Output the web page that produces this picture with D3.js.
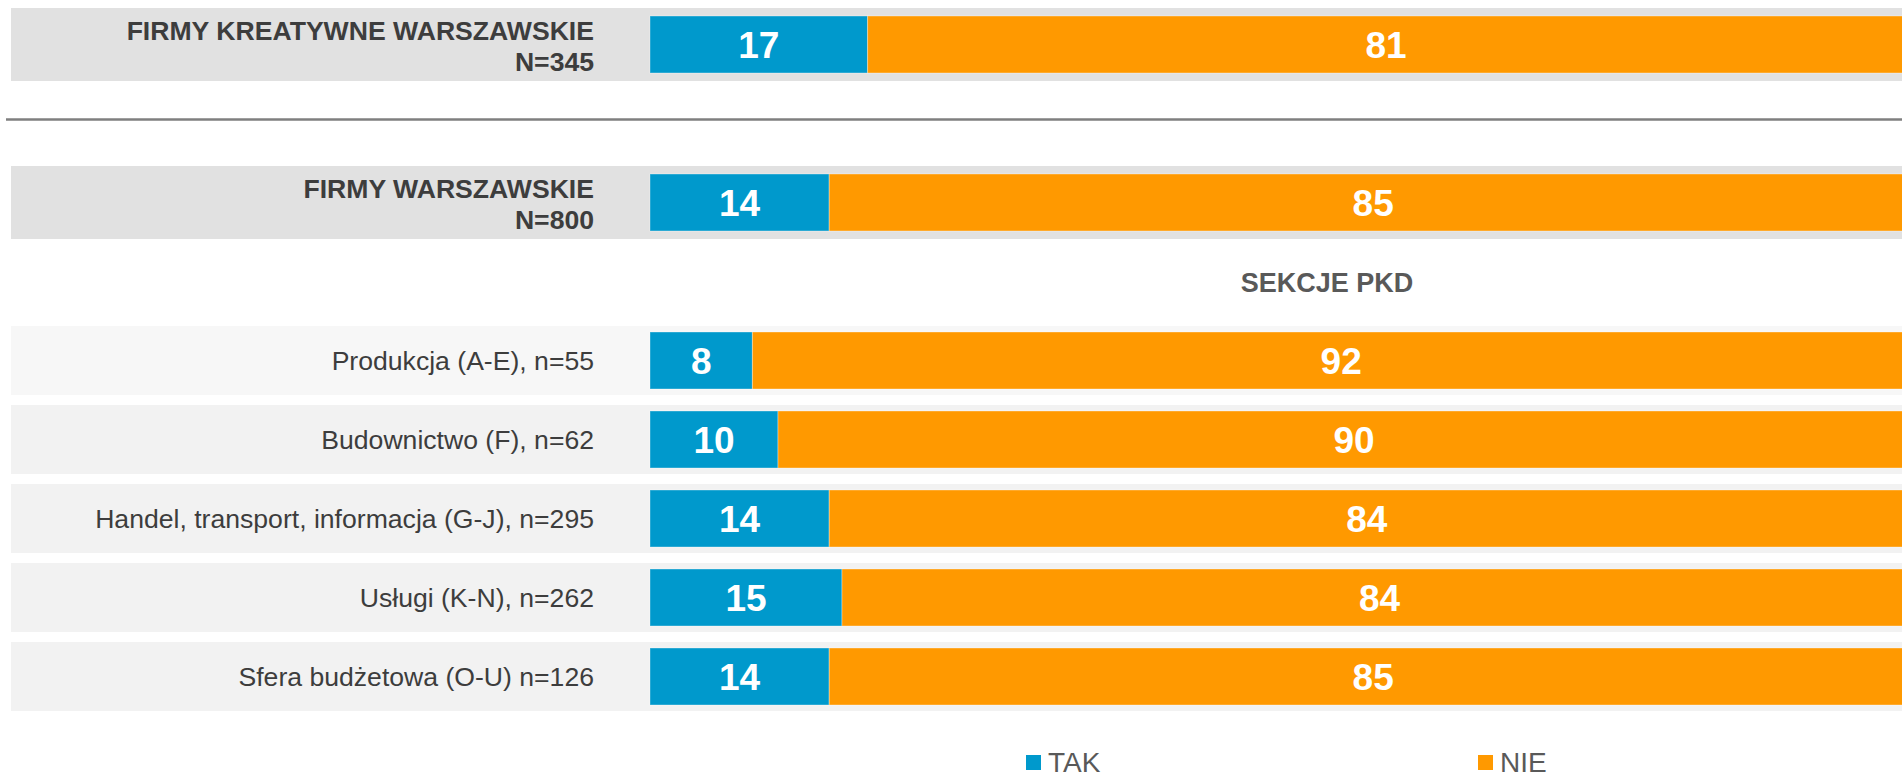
<!DOCTYPE html>
<html>
<head>
<meta charset="utf-8">
<script src="https://cdn.jsdelivr.net/npm/d3@7"></script>
<style>
  body { margin: 0; background: #fff; }
  svg { display: block; font-family: "Liberation Sans", Arial, sans-serif; }
</style>
</head>
<body>
<div id="chart"></div>
<script>
// chart data
const totals = ["FIRMY KREATYWNE WARSZAWSKIE|N=345", "FIRMY WARSZAWSKIE|N=800"];
const sectors = [
    "Produkcja (A-E), n=55",
    "Budownictwo (F), n=62",
    "Handel, transport, informacja (G-J), n=295",
    "Usługi (K-N), n=262",
    "Sfera budżetowa (O-U) n=126"
];
const series = ["TAK", "NIE"];
const takValues = [17, 14, 8, 10, 14, 15, 14];
const nieValues = [81, 85, 92, 90, 84, 84, 85];
const sectionTitle = "SEKCJE PKD";

const colors = {TAK: "#0099cc", NIE: "#ff9900"};

const width = 1902;
const height = 773;

const rows = totals.concat(sectors).map((label, i) => ({
    label: label,
    bold: i < totals.length,
    shade: i < totals.length ? "#e1e1e1" : (i === totals.length ? "#f7f7f7" : "#f2f2f2"),
    slot: "r" + i,
    TAK: takValues[i],
    NIE: nieValues[i]
}));

// vertical slots: rows plus separator and section title
const slots = ["r0", "sep", "r1", "title"].concat(sectors.map((d, i) => "r" + (i + 2)));

const svg = d3.select("#chart")
    .append("svg")
    .attr("width", width)
    .attr("height", height);

const x = d3.scaleLinear().domain([0, 100]).range([650, 1930]);
const y = d3.scaleBand()
    .domain(slots)
    .range([5, 716])
    .paddingInner(22 / 79)
    .paddingOuter(11 / 79);
const bw = y.bandwidth();

// row backgrounds
svg.append("g").selectAll("rect")
    .data(rows)
    .join("rect")
    .attr("x", 11)
    .attr("width", width - 11)
    .attr("y", d => y(d.slot) - (d.bold ? 8 : 6))
    .attr("height", d => bw + (d.bold ? 16 : 12))
    .attr("fill", d => d.shade);

// separator
svg.append("line")
    .attr("x1", 6).attr("x2", width)
    .attr("y1", y("sep") + bw / 2 - 4)
    .attr("y2", y("sep") + bw / 2 - 4)
    .attr("stroke", "#7f7f7f")
    .attr("stroke-width", 2.5);

// section title
svg.append("text")
    .attr("x", x(50) + 37)
    .attr("y", y("title") + bw / 2 + 10)
    .attr("text-anchor", "middle")
    .attr("font-size", 27)
    .attr("font-weight", "bold")
    .attr("fill", "#595959")
    .text(sectionTitle);

// stacked bars
const stack = d3.stack().keys(series)(rows);

const layers = svg.append("g").selectAll("g")
    .data(stack)
    .join("g")
    .attr("fill", d => colors[d.key]);

layers.selectAll("rect")
    .data(d => d)
    .join("rect")
    .attr("x", d => x(d[0]))
    .attr("width", d => x(d[1]) - x(d[0]))
    .attr("y", d => y(d.data.slot))
    .attr("height", bw)
    .attr("stroke", "#ffffff")
    .attr("stroke-opacity", 0.35)
    .attr("stroke-width", 1);

layers.selectAll("text")
    .data(d => d)
    .join("text")
    .attr("x", d => (x(d[0]) + x(d[1])) / 2)
    .attr("y", d => y(d.data.slot) + bw / 2)
    .attr("dy", "0.36em")
    .attr("text-anchor", "middle")
    .attr("font-size", 37)
    .attr("font-weight", "bold")
    .attr("fill", "#ffffff")
    .text(d => d[1] - d[0]);

// category labels
const labels = svg.append("g").selectAll("text")
    .data(rows)
    .join("text")
    .attr("x", 594)
    .attr("text-anchor", "end")
    .attr("font-size", 26.6)
    .attr("fill", "#3d3d3d")
    .attr("font-weight", d => d.bold ? "bold" : "normal");

labels.filter(d => !d.bold)
    .attr("y", d => y(d.slot) + bw / 2 + 9.5)
    .text(d => d.label);

labels.filter(d => d.bold)
    .selectAll("tspan")
    .data(d => d.label.split("|").map((t, i) => ({t: t, i: i, slot: d.slot})))
    .join("tspan")
    .attr("x", 594)
    .attr("y", d => y(d.slot) + bw / 2 - 4.5 + d.i * 31)
    .text(d => d.t);

// legend
const lx = d3.scaleBand().domain(series).range([1026, 1930]);
const legend = svg.append("g").selectAll("g")
    .data(series)
    .join("g")
    .attr("transform", d => `translate(${lx(d)},0)`);

legend.append("rect")
    .attr("x", 0).attr("y", 755)
    .attr("width", 15).attr("height", 15)
    .attr("fill", d => colors[d]);

legend.append("text")
    .attr("x", 22).attr("y", 772)
    .attr("font-size", 28)
    .attr("fill", "#595959")
    .text(d => d);
</script>
</body>
</html>
